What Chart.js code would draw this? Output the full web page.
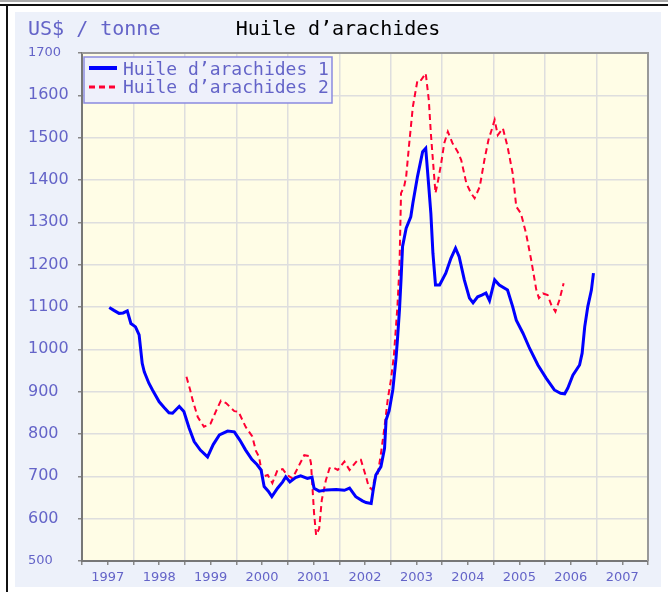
<!DOCTYPE html>
<html>
<head>
<meta charset="utf-8">
<script src="https://cdn.jsdelivr.net/npm/chart.js@4"></script>
<style>
  body { margin: 0; background: #fff; }
  #chart { display: block; }
</style>
</head>
<body>
<canvas id="chart" width="668" height="592"></canvas>

<script>
  // Huile d'arachides 1 (blue, solid)
  const years1 = [
    1997.53, 1997.62, 1997.72, 1997.80, 1997.88, 1997.95, 1998.04, 1998.11, 1998.17, 1998.21,
    1998.30, 1998.37, 1998.50, 1998.60, 1998.69, 1998.76, 1998.83, 1998.89, 1998.98, 1999.08,
    1999.18, 1999.30, 1999.44, 1999.55, 1999.67, 1999.83, 1999.96, 2000.07, 2000.18, 2000.30,
    2000.40, 2000.48, 2000.54, 2000.62, 2000.69, 2000.80, 2000.90, 2000.96, 2001.04, 2001.15,
    2001.25, 2001.38, 2001.47, 2001.51, 2001.61, 2001.75, 2001.94, 2002.10, 2002.20, 2002.32,
    2002.45, 2002.52, 2002.62, 2002.66, 2002.71, 2002.81, 2002.88, 2002.91, 2002.97, 2003.04,
    2003.10, 2003.13, 2003.17, 2003.20, 2003.23, 2003.30, 2003.39, 2003.43, 2003.52, 2003.62,
    2003.68, 2003.74, 2003.78, 2003.82, 2003.87, 2003.95, 2004.07, 2004.17, 2004.26, 2004.33,
    2004.43, 2004.53, 2004.60, 2004.69, 2004.77, 2004.85, 2004.92, 2005.02, 2005.11, 2005.27,
    2005.37, 2005.44, 2005.57, 2005.70, 2005.86, 2006.02, 2006.18, 2006.30, 2006.38, 2006.44,
    2006.54, 2006.67, 2006.72, 2006.77, 2006.83, 2006.90, 2006.94
  ];
  const values1 = [
    1099, 1092, 1085, 1086, 1091, 1061, 1053, 1034, 967, 947,
    920, 904, 876, 862, 850, 849, 858, 865, 853, 815,
    782, 762, 746, 775, 798, 807, 805, 785, 762, 740,
    728, 715, 676, 665, 652, 672, 687, 699, 687, 697,
    701, 695, 698, 672, 665, 668, 669, 667, 672, 652,
    642, 638, 636, 668, 703, 723, 766, 833, 855, 904,
    975, 1022, 1093, 1164, 1243, 1286, 1313, 1345, 1408, 1467,
    1475, 1384, 1321, 1227, 1152, 1152, 1180, 1215, 1239, 1219,
    1164, 1121, 1110, 1124, 1128, 1133, 1115, 1164, 1152, 1140,
    1101, 1069, 1038, 1002, 963, 932, 904, 896, 895, 908,
    939, 963, 991, 1053, 1101, 1140, 1180
  ];

  // Huile d'arachides 2 (red, dashed)
  const years2 = [
    1999.03, 1999.10, 1999.15, 1999.25, 1999.37, 1999.50, 1999.60, 1999.70, 1999.80, 1999.96,
    2000.04, 2000.18, 2000.31, 2000.38, 2000.44, 2000.51, 2000.61, 2000.70, 2000.80, 2000.90,
    2000.99, 2001.09, 2001.19, 2001.32, 2001.42, 2001.45, 2001.51, 2001.55, 2001.61, 2001.66,
    2001.74, 2001.81, 2001.88, 2001.97, 2002.10, 2002.20, 2002.36, 2002.42, 2002.52, 2002.57,
    2002.64, 2002.68, 2002.75, 2002.81, 2002.88, 2002.94, 2003.00, 2003.06, 2003.13, 2003.17,
    2003.20, 2003.26, 2003.30, 2003.36, 2003.43, 2003.52, 2003.59, 2003.68, 2003.74, 2003.78,
    2003.83, 2003.87, 2003.91, 2003.98, 2004.04, 2004.11, 2004.20, 2004.30, 2004.37, 2004.47,
    2004.56, 2004.63, 2004.73, 2004.82, 2004.90, 2004.95, 2005.02, 2005.08, 2005.18, 2005.27,
    2005.37, 2005.44, 2005.53, 2005.63, 2005.73, 2005.83, 2005.88, 2005.96, 2006.05, 2006.12,
    2006.20, 2006.28, 2006.36
  ];
  const values2 = [
    935, 905, 880, 840, 817, 825, 853, 879, 873, 854,
    853, 817, 794, 760, 746, 699, 703, 684, 715, 717,
    703, 695, 719, 750, 748, 731, 613, 561, 577, 644,
    691, 719, 721, 715, 735, 715, 739, 739, 699, 676,
    668, 691, 707, 754, 817, 880, 925, 983, 1101, 1195,
    1369, 1384, 1408, 1487, 1573, 1636, 1636, 1652, 1589, 1510,
    1431, 1369, 1392, 1439, 1487, 1514, 1487, 1467, 1447, 1392,
    1369, 1357, 1384, 1447, 1495, 1514, 1542, 1506, 1522, 1479,
    1416, 1337, 1321, 1274, 1211, 1140, 1121, 1132, 1128, 1105,
    1089, 1117, 1156
  ];

  const seriesNames = ["Huile d’arachides 1", "Huile d’arachides 2"];
  const chartTitle = "Huile d’arachides";
  const unitLabel = "US$ / tonne";

  const textBlue = '#6464c8';

  function toPoints(xs, ys) {
    return xs.map(function(x, i) { return { x: x, y: ys[i] }; });
  }

  // background panel, frame, plot border, legend and unit text
  const decor = {
    id: 'decor',
    beforeDraw(chart) {
      const ctx = chart.ctx;
      const a = chart.chartArea;
      ctx.save();
      ctx.fillStyle = '#ffffff';
      ctx.fillRect(0, 0, chart.width, chart.height);
      ctx.fillStyle = '#aaaaaa';
      ctx.fillRect(0, 0, chart.width, 2);
      ctx.fillStyle = '#111111';
      ctx.fillRect(0, 4, chart.width, 2);
      ctx.fillRect(6, 4, 2, chart.height - 4);
      ctx.fillStyle = '#edf1fa';
      ctx.fillRect(15, 12, 646, 575);
      ctx.fillStyle = '#fffde6';
      ctx.fillRect(a.left, a.top, a.right - a.left, a.bottom - a.top);
      ctx.restore();
    },
    afterDraw(chart) {
      const ctx = chart.ctx;
      const a = chart.chartArea;
      ctx.save();
      ctx.strokeStyle = '#999999';
      ctx.lineWidth = 2;
      ctx.beginPath();
      ctx.moveTo(a.left, a.top);
      ctx.lineTo(a.right, a.top);
      ctx.lineTo(a.right, a.bottom);
      ctx.stroke();

      // unit text
      ctx.font = '20px "DejaVu Sans Mono"';
      ctx.fillStyle = textBlue;
      ctx.textBaseline = 'middle';
      ctx.textAlign = 'left';
      ctx.fillText(unitLabel, 28, 30);

      // legend box
      const lx = a.left + 2, ly = a.top + 4;
      ctx.fillStyle = '#eef0fb';
      ctx.fillRect(lx, ly, 248, 46);
      ctx.strokeStyle = '#8a8ae0';
      ctx.lineWidth = 1.5;
      ctx.strokeRect(lx, ly, 248, 46);

      ctx.lineWidth = 4;
      ctx.strokeStyle = '#0000ff';
      ctx.beginPath();
      ctx.moveTo(lx + 5, ly + 11);
      ctx.lineTo(lx + 33, ly + 11);
      ctx.stroke();

      ctx.lineWidth = 3;
      ctx.strokeStyle = '#ff0033';
      ctx.setLineDash([6, 4]);
      ctx.beginPath();
      ctx.moveTo(lx + 5, ly + 30);
      ctx.lineTo(lx + 35, ly + 30);
      ctx.stroke();
      ctx.setLineDash([]);

      ctx.font = '18px "DejaVu Sans Mono"';
      ctx.fillStyle = textBlue;
      ctx.fillText(chart.data.datasets[0].label, lx + 39, ly + 13);
      ctx.fillText(chart.data.datasets[1].label, lx + 39, ly + 31);
      ctx.restore();
    }
  };

  const config = {
    type: 'line',
    data: {
      datasets: [{
        label: seriesNames[0],
        data: toPoints(years1, values1),
        borderColor: '#0000ff',
        borderWidth: 3,
        pointRadius: 0,
        tension: 0,
      }, {
        label: seriesNames[1],
        data: toPoints(years2, values2),
        borderColor: '#ff0033',
        borderWidth: 2,
        borderDash: [6, 4],
        pointRadius: 0,
        tension: 0,
      }]
    },
    options: {
      responsive: false,
      animation: false,
      devicePixelRatio: 1,
      layout: { padding: { left: 28, right: 20, top: 0, bottom: 5 } },
      plugins: {
        legend: { display: false },
        tooltip: { enabled: false },
        title: {
          display: true,
          text: chartTitle,
          color: '#000000',
          font: { family: 'DejaVu Sans Mono', size: 20, weight: 'normal' },
          padding: { top: 18, bottom: 11 },
        },
      },
      scales: {
        x: {
          type: 'linear',
          min: 1997,
          max: 2008,
          afterFit: function(scale) { scale.height = 26; },
          border: { color: '#777777', width: 2 },
          grid: {
            color: function(ctx) {
              return (ctx.tick && ctx.tick.value % 1 !== 0) ? 'rgba(0,0,0,0)' : '#dedede';
            },
            lineWidth: 1.5,
            tickColor: '#888888',
            tickLength: 4,
          },
          ticks: {
            stepSize: 0.5,
            autoSkip: false,
            maxRotation: 0,
            padding: 5,
            color: textBlue,
            font: { family: 'DejaVu Sans', size: 13 },
            callback: function(v) {
              return (v % 1 !== 0) ? String(Math.floor(v)) : '';
            }
          }
        },
        y: {
          min: 500,
          max: 1700,
          afterFit: function(scale) { scale.width = 54; },
          border: { color: '#777777', width: 2 },
          grid: {
            color: '#dedede',
            lineWidth: 1.5,
            tickColor: '#888888',
            tickLength: 4,
          },
          ticks: {
            stepSize: 100,
            crossAlign: 'far',
            color: textBlue,
            font: function(ctx) {
              const v = ctx.tick ? ctx.tick.value : 0;
              return { family: 'DejaVu Sans', size: (v === 500 || v === 1700) ? 13 : 16 };
            },
            callback: function(v) { return String(v); }
          }
        }
      }
    },
    plugins: [decor]
  };

  const myChart = new Chart(document.getElementById('chart'), config);
</script>
</body>
</html>
